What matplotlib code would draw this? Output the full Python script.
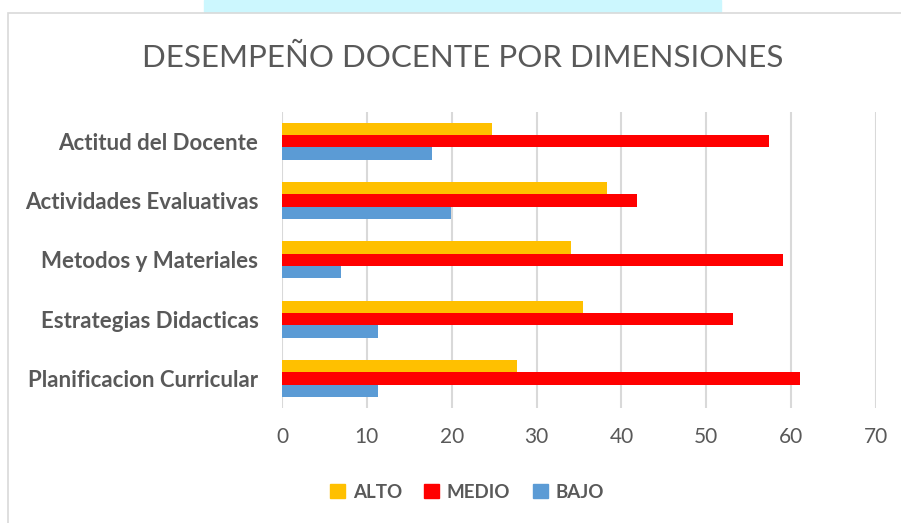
import numpy as np
import matplotlib.pyplot as plt
from matplotlib.patches import Rectangle, Patch

# data
categorias = ['Planificacion Curricular', 'Estrategias Didacticas',
              'Metodos y Materiales', 'Actividades Evaluativas',
              'Actitud del Docente']
alto = [27.7, 35.5, 34.0, 38.3, 24.8]
medio = [61.1, 53.2, 59.0, 41.8, 57.4]
bajo = [11.3, 11.3, 7.0, 19.9, 17.7]
series = ['ALTO', 'MEDIO', 'BAJO']
colores = ['#FFC000', '#FF0000', '#5B9BD5']
xticks = [0, 10, 20, 30, 40, 50, 60, 70]

gris = '#595959'
fuente = 'Lato'

fig = plt.figure(figsize=(9.01, 5.23), dpi=100)

# decorative strip at the top and chart border
fig.patches.append(Rectangle((204 / 901, 1 - 12 / 523), 517 / 901, 12 / 523,
                             transform=fig.transFigure, color='#CCF7FE', zorder=0))
fig.patches.append(Rectangle((8 / 901, -0.01), 1.0, 1 - 13 / 523 + 0.01,
                             transform=fig.transFigure, fill=False,
                             edgecolor='#D9D9D9', linewidth=1.2, zorder=1))

ax = fig.add_axes([282 / 901, 1 - 408 / 523, 594 / 901, 296.3 / 523])

y = np.arange(len(categorias))
h = 0.208
ax.barh(y + h, alto, height=h, color=colores[0], zorder=3)
ax.barh(y, medio, height=h, color=colores[1], zorder=3)
ax.barh(y - h, bajo, height=h, color=colores[2], zorder=3)

ax.set_xlim(0, 70)
ax.set_ylim(-0.5, len(categorias) - 0.5)
ax.set_xticks(xticks)
ax.set_xticklabels([str(t) for t in xticks], fontsize=15, color=gris,
                   fontfamily=fuente)
ax.set_yticks(y)
ax.set_yticklabels(categorias, fontsize=16, color=gris, fontweight='bold',
                   fontfamily=fuente)
ax.tick_params(axis='x', length=0, pad=14)
ax.tick_params(axis='y', length=0, pad=17)
ax.grid(axis='x', color='#D9D9D9', linewidth=1.5, zorder=0)
for s in ax.spines.values():
    s.set_visible(False)

fig.text(463 / 901, 1 - 58 / 523, 'DESEMPEÑO DOCENTE POR DIMENSIONES',
         ha='center', va='center', fontsize=22.5, color=gris, fontfamily=fuente)

handles = [Patch(color=c) for c in colores]
leg = fig.legend(handles, series, loc='center', bbox_to_anchor=(467 / 901, 1 - 492 / 523),
                 ncol=3, frameon=False, handlelength=0.8, handleheight=0.8,
                 handletextpad=0.4, columnspacing=1.2,
                 prop={'family': fuente, 'weight': 'bold', 'size': 13.5})
for t in leg.get_texts():
    t.set_color(gris)

fig.savefig('out.png', dpi=100)
